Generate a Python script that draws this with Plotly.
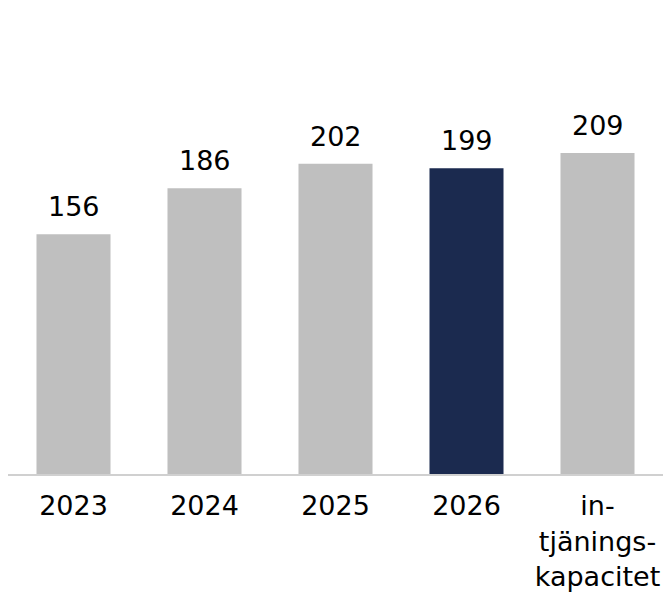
import plotly.graph_objects as go

categories = ["2023", "2024", "2025", "2026", "in-<br>tjänings-<br>kapacitet"]
values = [156, 186, 202, 199, 209]
colors = ["#BFBFBF", "#BFBFBF", "#BFBFBF", "#1B2A4F", "#BFBFBF"]
labels = [str(v) for v in values]

fig = go.Figure(
    go.Bar(
        x=categories,
        y=values,
        marker=dict(color=colors, line=dict(width=0)),
    )
)

# value labels: on a category axis annotations use the category's serial index
for i, (v, t) in enumerate(zip(values, labels)):
    fig.add_annotation(
        x=i, y=v, xref="x", yref="y", text=t, showarrow=False,
        yanchor="bottom", yshift=10,
        font=dict(family="DejaVu Sans", size=27, color="#000000"),
    )

fig.update_layout(
    width=663,
    height=594,
    margin=dict(l=8, r=0, t=0, b=120, autoexpand=False),
    paper_bgcolor="white",
    plot_bgcolor="white",
    bargap=0.435,
    showlegend=False,
    font=dict(family="DejaVu Sans", size=27, color="#000000"),
)
fig.update_xaxes(
    type="category",
    range=[-0.5, len(categories) - 0.5],
    automargin=False,
    showline=True,
    linecolor="#D0D0D0",
    linewidth=2,
    showgrid=False,
    ticks="",
    ticklabelstandoff=7,
    tickfont=dict(family="DejaVu Sans", size=27, color="#000000"),
)
fig.update_yaxes(range=[0, 308.5], visible=False, showgrid=False, zeroline=False,
                 automargin=False)

fig.write_html("out.html")
